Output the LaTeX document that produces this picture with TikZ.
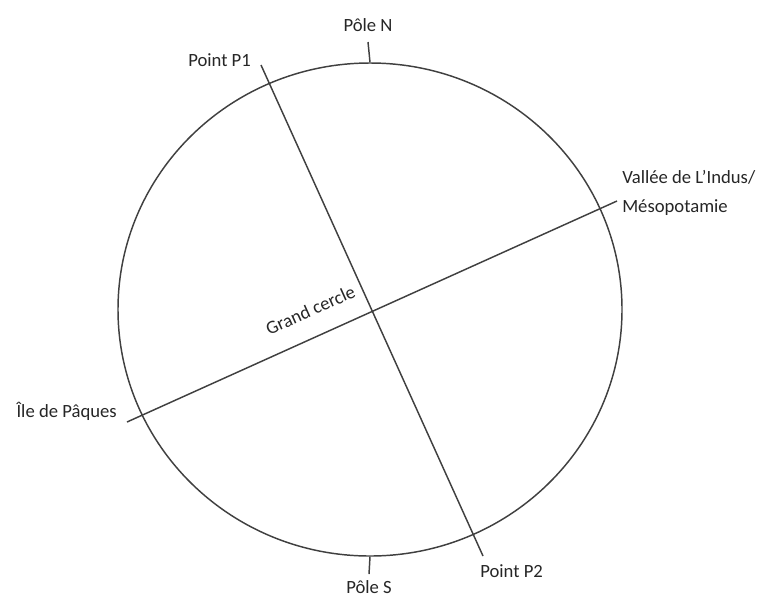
\documentclass[tikz,border=0pt]{standalone}
\usepackage{fontspec}
\setmainfont{Carlito}
\usepackage{tikz}
\usetikzlibrary{shapes.geometric,positioning,calc}
\definecolor{traitgris}{HTML}{404040}
\definecolor{textegris}{HTML}{262626}
\tikzstyle{trait} = [draw=traitgris, line width=1.1pt]
\tikzstyle{etiquette} = [inner sep=0pt, text=textegris, font=\fontsize{14}{21.5}\selectfont]

\begin{document}
\begin{tikzpicture}[x=0.75pt, y=-0.75pt]
\useasboundingbox (0,0) rectangle (762,594);
% le globe
\node[ellipse, trait, minimum width=504*0.75pt, minimum height=493*0.75pt, inner sep=0pt] (globe) at (370,309.5) {};

% labels
\node[etiquette] (poleN) at (368,25) {Pôle N};
\node[etiquette] (poleS) at (369,587) {Pôle S};
\node[etiquette, anchor=west] (pointA) at (188,60) {Point P1};
\node[etiquette, anchor=west] (pointB) at (480,571) {Point P2};
\node[etiquette, anchor=west, align=left] (indus) at (622,193) {Vallée de L’Indus/\\Mésopotamie};
\node[etiquette, anchor=east] (paques) at (117,411) {Île de Pâques};
\node[etiquette, anchor=base, rotate=24.3] (grand) at (313,316) {Grand cercle};

% ends of the lines
\coordinate (finA) at (261,65);
\coordinate (finB) at (483,556);
\coordinate (finI) at (617,201);
\coordinate (finP) at (127,422);
\coordinate (tigeN) at (368,42);
\coordinate (tigeS) at (369,574);

\draw[trait] (finA) -- (finB);
\draw[trait] (finP) -- (finI);
\draw[trait] (tigeN) -- (globe.north);
\draw[trait] (globe.south) -- (tigeS);
\end{tikzpicture}
\end{document}
